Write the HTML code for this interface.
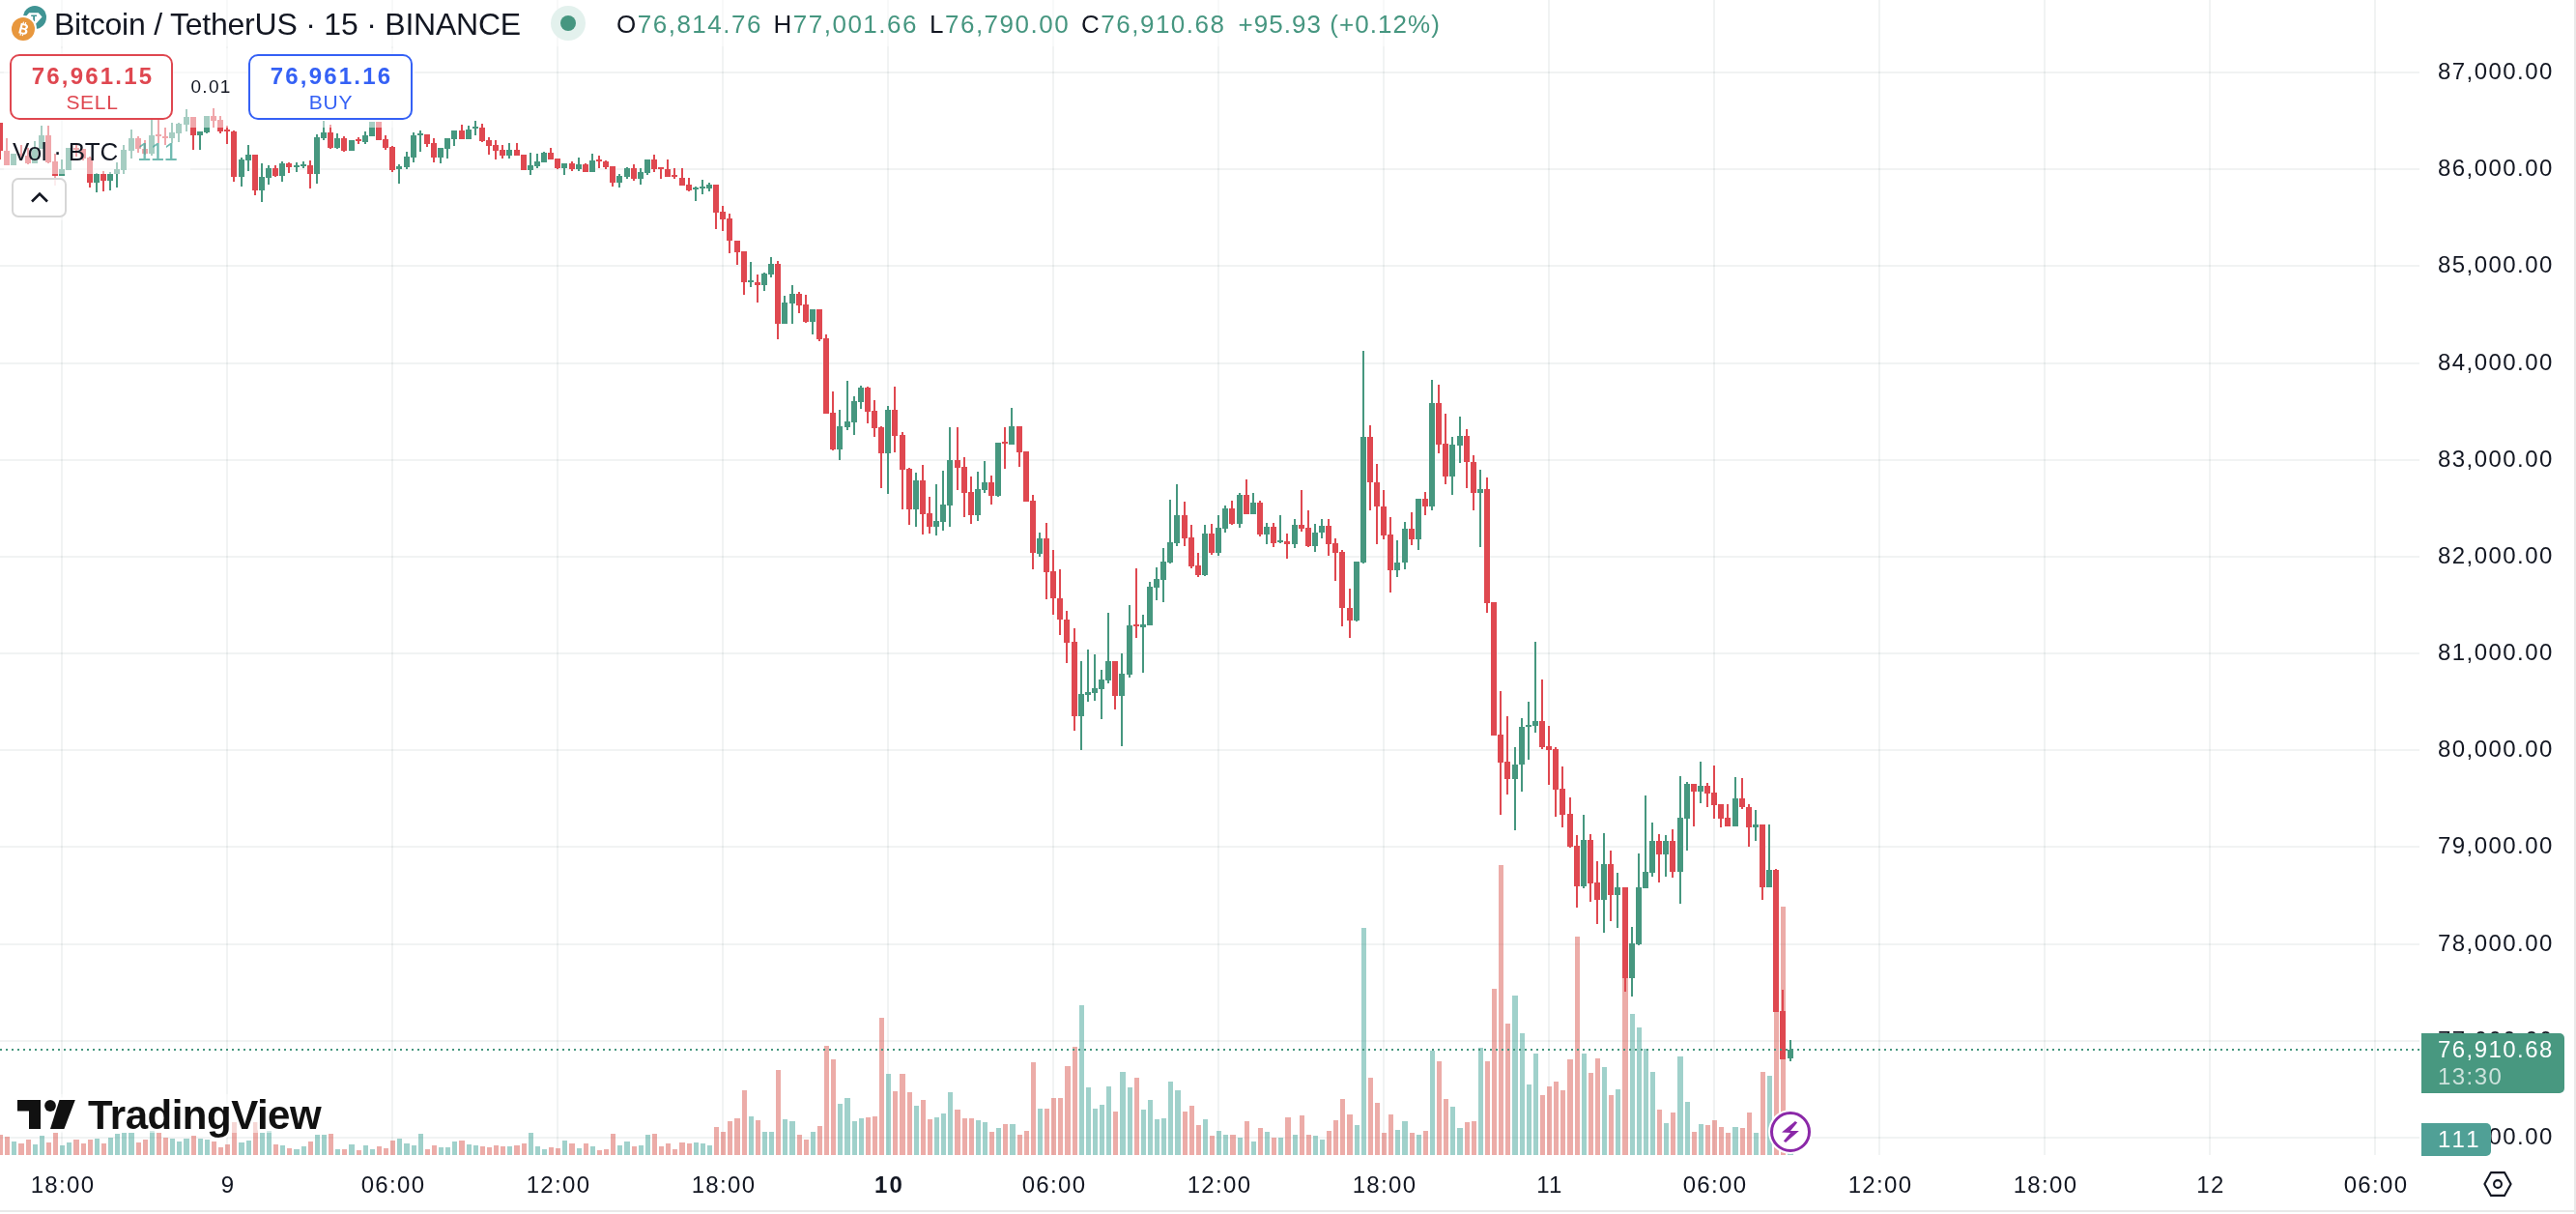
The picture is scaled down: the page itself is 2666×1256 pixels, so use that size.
<!DOCTYPE html>
<html>
<head>
<meta charset="utf-8">
<title>BTCUSDT Chart</title>
<style>
html,body{margin:0;padding:0;background:#fff;}
body{width:2666px;height:1256px;overflow:hidden;position:relative;font-family:"Liberation Sans",sans-serif;color:#131722;}
.abs{position:absolute;white-space:nowrap;}
.ov{position:absolute;background:rgba(255,255,255,0.52);}
.plab{position:absolute;left:2523px;font-size:24px;line-height:28px;letter-spacing:1.45px;margin-top:.5px;white-space:nowrap;}
.tlab{position:absolute;top:1212px;margin-left:1px;font-size:24px;line-height:28px;letter-spacing:1.3px;white-space:nowrap;transform:translateX(-50%);}
.leg{position:absolute;top:10px;font-size:26px;line-height:30px;white-space:nowrap;letter-spacing:1.5px;}
.g{color:#469680;}
</style>
</head>
<body>
<div id="root" style="position:absolute;left:0;top:0;width:2666px;height:1256px;will-change:transform;">
<svg width="2666" height="1256" viewBox="0 0 2666 1256" shape-rendering="crispEdges" style="position:absolute;left:0;top:0">
<path fill="rgba(20,45,45,0.06)" d="M63 0h2v1195h-2zM234 0h2v1195h-2zM405 0h2v1195h-2zM576 0h2v1195h-2zM747 0h2v1195h-2zM918 0h2v1195h-2zM1089 0h2v1195h-2zM1260 0h2v1195h-2zM1431 0h2v1195h-2zM1602 0h2v1195h-2zM1773 0h2v1195h-2zM1944 0h2v1195h-2zM2115 0h2v1195h-2zM2286 0h2v1195h-2zM2457 0h2v1195h-2z"/>
<path fill="rgba(20,45,45,0.06)" d="M0 74h2504v2h-2504zM0 174h2504v2h-2504zM0 274h2504v2h-2504zM0 375h2504v2h-2504zM0 475h2504v2h-2504zM0 575h2504v2h-2504zM0 675h2504v2h-2504zM0 775h2504v2h-2504zM0 875h2504v2h-2504zM0 976h2504v2h-2504zM0 1076h2504v2h-2504zM0 1176h2504v2h-2504z"/>
<path fill="rgba(217,89,81,0.5)" d="M-2 1174h5v21h-5zM5 1176h5v19h-5zM19 1183h6v12h-6zM27 1179h5v16h-5zM48 1182h5v13h-5zM55 1172h5v23h-5zM76 1179h6v16h-6zM84 1183h5v12h-5zM91 1179h5v16h-5zM105 1183h5v12h-5zM141 1182h5v13h-5zM148 1179h5v16h-5zM162 1172h5v23h-5zM169 1177h5v18h-5zM198 1175h5v20h-5zM219 1181h5v14h-5zM226 1187h5v8h-5zM233 1184h5v11h-5zM240 1161h5v34h-5zM262 1161h5v34h-5zM283 1184h5v11h-5zM297 1188h5v7h-5zM319 1181h5v14h-5zM340 1173h5v22h-5zM354 1189h5v6h-5zM369 1190h5v5h-5zM390 1186h5v9h-5zM397 1188h5v7h-5zM404 1180h5v15h-5zM440 1189h5v6h-5zM447 1185h5v10h-5zM475 1180h6v15h-6zM497 1186h5v9h-5zM504 1187h5v8h-5zM511 1185h5v10h-5zM518 1186h5v9h-5zM532 1185h6v10h-6zM540 1183h5v12h-5zM568 1187h5v8h-5zM575 1188h5v7h-5zM589 1183h6v12h-6zM604 1183h5v12h-5zM618 1190h5v5h-5zM625 1189h5v6h-5zM632 1173h5v22h-5zM654 1186h5v9h-5zM675 1173h5v22h-5zM682 1186h5v9h-5zM689 1183h5v12h-5zM696 1189h5v6h-5zM703 1182h6v13h-6zM711 1183h5v12h-5zM739 1166h5v29h-5zM746 1171h5v24h-5zM753 1160h5v35h-5zM760 1157h6v38h-6zM768 1128h5v67h-5zM782 1159h5v36h-5zM803 1107h5v88h-5zM825 1174h5v21h-5zM832 1179h5v16h-5zM846 1165h5v30h-5zM853 1082h5v113h-5zM860 1096h5v99h-5zM896 1156h5v39h-5zM903 1155h5v40h-5zM910 1053h5v142h-5zM924 1129h5v66h-5zM931 1111h6v84h-6zM939 1130h5v65h-5zM953 1138h5v57h-5zM960 1158h5v37h-5zM988 1148h6v47h-6zM996 1157h5v38h-5zM1003 1157h5v38h-5zM1024 1171h5v24h-5zM1038 1163h5v32h-5zM1053 1174h5v21h-5zM1060 1170h5v25h-5zM1067 1099h5v96h-5zM1081 1147h5v48h-5zM1088 1136h5v59h-5zM1095 1136h5v59h-5zM1102 1103h6v92h-6zM1110 1083h5v112h-5zM1152 1150h5v45h-5zM1174 1115h5v80h-5zM1224 1150h5v45h-5zM1231 1144h5v51h-5zM1238 1164h5v31h-5zM1252 1175h5v20h-5zM1273 1174h6v21h-6zM1288 1160h5v35h-5zM1302 1167h5v28h-5zM1316 1177h5v18h-5zM1330 1156h6v39h-6zM1345 1154h5v41h-5zM1352 1174h5v21h-5zM1373 1170h5v25h-5zM1380 1159h5v36h-5zM1387 1137h5v58h-5zM1394 1153h6v42h-6zM1416 1115h5v80h-5zM1423 1141h5v54h-5zM1430 1172h5v23h-5zM1437 1153h5v42h-5zM1459 1172h5v23h-5zM1473 1170h5v25h-5zM1487 1098h5v97h-5zM1494 1137h5v58h-5zM1516 1161h5v34h-5zM1523 1160h5v35h-5zM1537 1098h5v97h-5zM1544 1023h5v172h-5zM1551 895h5v300h-5zM1558 1059h5v136h-5zM1594 1133h5v62h-5zM1601 1124h5v71h-5zM1608 1119h5v76h-5zM1615 1128h5v67h-5zM1622 1096h6v99h-6zM1630 969h5v226h-5zM1644 1110h5v85h-5zM1651 1095h5v100h-5zM1665 1133h5v62h-5zM1679 960h6v235h-6zM1715 1148h5v47h-5zM1729 1151h5v44h-5zM1751 1171h5v24h-5zM1765 1164h5v31h-5zM1772 1159h5v36h-5zM1779 1166h5v29h-5zM1786 1172h5v23h-5zM1801 1167h5v28h-5zM1808 1151h5v44h-5zM1822 1109h5v86h-5zM1836 1000h5v195h-5zM1843 938h5v257h-5z"/>
<path fill="rgba(65,163,151,0.5)" d="M12 1181h5v14h-5zM34 1184h5v11h-5zM41 1175h5v20h-5zM62 1185h5v10h-5zM69 1182h5v13h-5zM98 1178h5v17h-5zM112 1177h5v18h-5zM119 1173h5v22h-5zM126 1172h5v23h-5zM133 1172h6v23h-6zM155 1170h5v25h-5zM176 1178h5v17h-5zM183 1181h5v14h-5zM190 1178h6v17h-6zM205 1178h5v17h-5zM212 1179h5v16h-5zM247 1182h6v13h-6zM255 1180h5v15h-5zM269 1172h5v23h-5zM276 1170h5v25h-5zM290 1185h5v10h-5zM304 1189h6v6h-6zM312 1186h5v9h-5zM326 1174h5v21h-5zM333 1174h5v21h-5zM347 1189h5v6h-5zM361 1184h6v11h-6zM376 1185h5v10h-5zM383 1189h5v6h-5zM411 1178h5v17h-5zM418 1183h6v12h-6zM426 1185h5v10h-5zM433 1173h5v22h-5zM454 1187h5v8h-5zM461 1187h5v8h-5zM468 1181h5v14h-5zM483 1184h5v11h-5zM490 1185h5v10h-5zM525 1186h5v9h-5zM547 1172h5v23h-5zM554 1186h5v9h-5zM561 1189h5v6h-5zM582 1180h5v15h-5zM597 1188h5v7h-5zM611 1186h5v9h-5zM639 1185h5v10h-5zM646 1181h6v14h-6zM661 1185h5v10h-5zM668 1174h5v21h-5zM718 1182h5v13h-5zM725 1183h5v12h-5zM732 1185h5v10h-5zM775 1155h5v40h-5zM789 1171h5v24h-5zM796 1171h5v24h-5zM810 1158h5v37h-5zM817 1160h6v35h-6zM839 1171h5v24h-5zM867 1142h5v53h-5zM874 1136h6v59h-6zM882 1160h5v35h-5zM889 1157h5v38h-5zM917 1111h5v84h-5zM946 1144h5v51h-5zM967 1156h5v39h-5zM974 1152h5v43h-5zM981 1130h5v65h-5zM1010 1159h5v36h-5zM1017 1161h5v34h-5zM1031 1167h5v28h-5zM1045 1163h6v32h-6zM1074 1147h5v48h-5zM1117 1040h5v155h-5zM1124 1125h5v70h-5zM1131 1147h5v48h-5zM1138 1143h5v52h-5zM1145 1124h5v71h-5zM1159 1109h6v86h-6zM1167 1125h5v70h-5zM1181 1148h5v47h-5zM1188 1138h5v57h-5zM1195 1158h5v37h-5zM1202 1157h5v38h-5zM1209 1119h5v76h-5zM1216 1128h6v67h-6zM1245 1158h5v37h-5zM1259 1170h5v25h-5zM1266 1174h5v21h-5zM1281 1177h5v18h-5zM1295 1181h5v14h-5zM1309 1171h5v24h-5zM1323 1177h5v18h-5zM1338 1174h5v21h-5zM1359 1175h5v20h-5zM1366 1179h5v16h-5zM1402 1164h5v31h-5zM1409 960h5v235h-5zM1444 1169h5v26h-5zM1451 1160h6v35h-6zM1466 1174h5v21h-5zM1480 1087h5v108h-5zM1501 1145h5v50h-5zM1508 1167h6v28h-6zM1530 1084h5v111h-5zM1565 1030h6v165h-6zM1573 1069h5v126h-5zM1580 1122h5v73h-5zM1587 1090h5v105h-5zM1637 1090h5v105h-5zM1658 1104h5v91h-5zM1672 1127h5v68h-5zM1687 1049h5v146h-5zM1694 1063h5v132h-5zM1701 1085h5v110h-5zM1708 1109h5v86h-5zM1722 1162h5v33h-5zM1736 1093h6v102h-6zM1744 1140h5v55h-5zM1758 1163h5v32h-5zM1793 1166h6v29h-6zM1815 1172h5v23h-5zM1829 1113h5v82h-5zM1850 1193h6v2h-6z"/>
<path fill="#df4850" d="M-1 127h2v38h-2zM-3 127h6v29h-6zM6 143h2v28h-2zM4 156h6v15h-6zM21 150h2v13h-2zM19 159h6v2h-6zM28 153h2v17h-2zM26 161h6v8h-6zM49 130h2v39h-2zM47 140h6v28h-6zM56 159h2v33h-2zM54 167h6v15h-6zM78 150h2v12h-2zM76 153h6v2h-6zM85 154h2v12h-2zM83 154h6v10h-6zM92 162h2v32h-2zM90 163h6v26h-6zM106 177h2v21h-2zM104 180h6v7h-6zM142 141h2v17h-2zM140 143h6v11h-6zM149 145h2v15h-2zM147 154h6v5h-6zM163 124h2v24h-2zM161 139h6v2h-6zM170 132h2v18h-2zM168 141h6v2h-6zM199 121h2v34h-2zM197 121h6v19h-6zM220 112h2v20h-2zM218 120h6v5h-6zM227 120h2v18h-2zM225 124h6v12h-6zM234 130h2v19h-2zM232 134h6v2h-6zM241 135h2v53h-2zM239 136h6v47h-6zM263 160h2v42h-2zM261 160h6v37h-6zM284 171h2v12h-2zM282 174h6v8h-6zM298 168h2v11h-2zM296 169h6v4h-6zM320 166h2v29h-2zM318 171h6v9h-6zM341 129h2v25h-2zM339 137h6v16h-6zM355 141h2v16h-2zM353 143h6v13h-6zM370 142h2v7h-2zM368 144h6v2h-6zM391 126h2v19h-2zM389 126h6v19h-6zM398 140h2v15h-2zM396 144h6v9h-6zM405 151h2v27h-2zM403 152h6v24h-6zM441 139h2v13h-2zM439 139h6v10h-6zM448 143h2v25h-2zM446 148h6v15h-6zM477 129h2v15h-2zM475 135h6v9h-6zM498 128h2v19h-2zM496 132h6v14h-6zM505 142h2v18h-2zM503 145h6v6h-6zM512 145h2v20h-2zM510 150h6v6h-6zM519 150h2v14h-2zM517 155h6v6h-6zM534 148h2v13h-2zM532 155h6v6h-6zM541 160h2v16h-2zM539 160h6v16h-6zM569 153h2v12h-2zM567 158h6v7h-6zM576 164h2v11h-2zM574 164h6v10h-6zM591 167h2v10h-2zM589 169h6v6h-6zM605 169h2v9h-2zM603 170h6v8h-6zM619 161h2v13h-2zM617 165h6v2h-6zM626 166h2v9h-2zM624 167h6v6h-6zM633 172h2v21h-2zM631 172h6v17h-6zM655 170h2v17h-2zM653 174h6v11h-6zM676 160h2v18h-2zM674 165h6v10h-6zM683 173h2v12h-2zM681 173h6v2h-6zM690 165h2v18h-2zM688 175h6v8h-6zM697 174h2v11h-2zM695 181h6v2h-6zM705 174h2v18h-2zM703 184h6v8h-6zM712 184h2v14h-2zM710 191h6v6h-6zM740 191h2v46h-2zM738 191h6v29h-6zM747 213h2v26h-2zM745 219h6v8h-6zM754 221h2v41h-2zM752 226h6v23h-6zM762 249h2v25h-2zM760 249h6v12h-6zM769 260h2v45h-2zM767 260h6v32h-6zM783 284h2v29h-2zM781 292h6v3h-6zM804 270h2v81h-2zM802 273h6v62h-6zM826 302h2v22h-2zM824 304h6v12h-6zM833 305h2v29h-2zM831 315h6v18h-6zM847 320h2v33h-2zM845 320h6v31h-6zM854 346h2v82h-2zM852 350h6v78h-6zM861 405h2v61h-2zM859 427h6v38h-6zM897 400h2v38h-2zM895 401h6v25h-6zM904 414h2v38h-2zM902 425h6v18h-6zM911 441h2v64h-2zM909 442h6v27h-6zM925 400h2v68h-2zM923 424h6v27h-6zM933 447h2v80h-2zM931 450h6v36h-6zM940 484h2v59h-2zM938 485h6v42h-6zM954 481h2v72h-2zM952 497h6v35h-6zM961 514h2v38h-2zM959 531h6v14h-6zM990 442h2v65h-2zM988 476h6v8h-6zM997 473h2v62h-2zM995 483h6v27h-6zM1004 493h2v49h-2zM1002 509h6v24h-6zM1025 492h2v30h-2zM1023 499h6v14h-6zM1039 442h2v43h-2zM1037 457h6v2h-6zM1054 441h2v42h-2zM1052 441h6v27h-6zM1061 467h2v52h-2zM1059 467h6v52h-6zM1068 512h2v77h-2zM1066 518h6v54h-6zM1082 541h2v79h-2zM1080 557h6v35h-6zM1089 569h2v67h-2zM1087 591h6v28h-6zM1096 589h2v68h-2zM1094 619h6v22h-6zM1103 632h2v54h-2zM1101 641h6v24h-6zM1111 650h2v106h-2zM1109 664h6v77h-6zM1153 684h2v50h-2zM1151 684h6v36h-6zM1175 588h2v72h-2zM1173 646h6v2h-6zM1225 519h2v46h-2zM1223 533h6v24h-6zM1232 543h2v45h-2zM1230 556h6v30h-6zM1239 572h2v25h-2zM1237 585h6v10h-6zM1253 542h2v32h-2zM1251 552h6v20h-6zM1274 518h2v25h-2zM1272 526h6v16h-6zM1289 496h2v36h-2zM1287 512h6v20h-6zM1303 518h2v37h-2zM1301 520h6v33h-6zM1317 541h2v25h-2zM1315 545h6v17h-6zM1331 552h2v26h-2zM1329 560h6v3h-6zM1346 507h2v43h-2zM1344 543h6v4h-6zM1353 528h2v38h-2zM1351 546h6v19h-6zM1374 537h2v38h-2zM1372 544h6v19h-6zM1381 557h2v44h-2zM1379 562h6v10h-6zM1388 569h2v79h-2zM1386 571h6v58h-6zM1396 609h2v51h-2zM1394 629h6v13h-6zM1417 440h2v88h-2zM1415 452h6v47h-6zM1424 480h2v83h-2zM1422 499h6v25h-6zM1431 507h2v51h-2zM1429 524h6v30h-6zM1438 535h2v78h-2zM1436 553h6v37h-6zM1460 530h2v34h-2zM1458 547h6v11h-6zM1474 509h2v24h-2zM1472 516h6v8h-6zM1488 398h2v71h-2zM1486 417h6v43h-6zM1495 428h2v73h-2zM1493 459h6v34h-6zM1517 444h2v61h-2zM1515 451h6v27h-6zM1524 471h2v57h-2zM1522 478h6v32h-6zM1538 494h2v140h-2zM1536 506h6v118h-6zM1545 623h2v138h-2zM1543 623h6v138h-6zM1552 715h2v128h-2zM1550 760h6v29h-6zM1559 741h2v81h-2zM1557 788h6v18h-6zM1595 703h2v72h-2zM1593 746h6v27h-6zM1602 751h2v61h-2zM1600 772h6v4h-6zM1609 773h2v72h-2zM1607 775h6v42h-6zM1616 793h2v63h-2zM1614 816h6v27h-6zM1624 825h2v52h-2zM1622 842h6v34h-6zM1631 864h2v75h-2zM1629 875h6v42h-6zM1645 863h2v70h-2zM1643 869h6v45h-6zM1652 891h2v65h-2zM1650 913h6v18h-6zM1666 880h2v73h-2zM1664 894h6v32h-6zM1681 918h2v108h-2zM1679 918h6v94h-6zM1716 863h2v50h-2zM1714 870h6v14h-6zM1730 858h2v50h-2zM1728 870h6v32h-6zM1752 811h2v44h-2zM1750 811h6v8h-6zM1766 810h2v25h-2zM1764 813h6v8h-6zM1773 792h2v55h-2zM1771 820h6v13h-6zM1780 832h2v24h-2zM1778 832h6v15h-6zM1787 832h2v23h-2zM1785 846h6v9h-6zM1802 805h2v32h-2zM1800 826h6v9h-6zM1809 832h2v44h-2zM1807 835h6v21h-6zM1823 853h2v78h-2zM1821 853h6v65h-6zM1837 899h2v148h-2zM1835 900h6v147h-6zM1844 1024h2v72h-2zM1842 1046h6v50h-6z"/>
<path fill="#46977f" d="M13 159h2v12h-2zM11 159h6v12h-6zM35 146h2v23h-2zM33 154h6v15h-6zM42 130h2v24h-2zM40 140h6v14h-6zM63 165h2v17h-2zM61 175h6v7h-6zM70 153h2v23h-2zM68 153h6v23h-6zM99 179h2v20h-2zM97 180h6v9h-6zM113 178h2v19h-2zM111 180h6v7h-6zM120 168h2v26h-2zM118 175h6v5h-6zM127 150h2v30h-2zM125 155h6v21h-6zM135 134h2v30h-2zM133 143h6v13h-6zM156 124h2v37h-2zM154 140h6v19h-6zM177 127h2v21h-2zM175 137h6v6h-6zM184 127h2v20h-2zM182 128h6v10h-6zM192 113h2v23h-2zM190 121h6v8h-6zM206 136h2v19h-2zM204 136h6v4h-6zM213 120h2v18h-2zM211 120h6v17h-6zM249 163h2v30h-2zM247 165h6v18h-6zM256 150h2v27h-2zM254 160h6v6h-6zM270 169h2v40h-2zM268 183h6v14h-6zM277 171h2v20h-2zM275 174h6v10h-6zM291 167h2v21h-2zM289 169h6v13h-6zM306 168h2v10h-2zM304 171h6v2h-6zM313 167h2v7h-2zM311 170h6v2h-6zM327 139h2v51h-2zM325 142h6v38h-6zM334 125h2v20h-2zM332 137h6v6h-6zM348 138h2v16h-2zM346 143h6v10h-6zM363 145h2v11h-2zM361 145h6v11h-6zM377 136h2v13h-2zM375 140h6v7h-6zM384 126h2v15h-2zM382 126h6v15h-6zM412 170h2v20h-2zM410 172h6v3h-6zM420 157h2v18h-2zM418 162h6v11h-6zM427 137h2v31h-2zM425 140h6v23h-6zM434 135h2v22h-2zM432 138h6v2h-6zM455 153h2v16h-2zM453 153h6v10h-6zM462 143h2v21h-2zM460 143h6v11h-6zM469 135h2v16h-2zM467 135h6v9h-6zM484 130h2v14h-2zM482 134h6v10h-6zM491 125h2v15h-2zM489 131h6v2h-6zM526 148h2v16h-2zM524 155h6v6h-6zM548 158h2v23h-2zM546 171h6v5h-6zM555 159h2v15h-2zM553 167h6v5h-6zM562 157h2v11h-2zM560 158h6v10h-6zM583 169h2v12h-2zM581 169h6v5h-6zM598 163h2v14h-2zM596 170h6v5h-6zM612 159h2v19h-2zM610 166h6v12h-6zM640 180h2v14h-2zM638 182h6v7h-6zM648 173h2v12h-2zM646 174h6v9h-6zM662 174h2v17h-2zM660 178h6v7h-6zM669 165h2v16h-2zM667 165h6v14h-6zM719 193h2v15h-2zM717 194h6v2h-6zM726 186h2v15h-2zM724 193h6v2h-6zM733 189h2v9h-2zM731 191h6v4h-6zM776 271h2v26h-2zM774 290h6v2h-6zM790 282h2v19h-2zM788 283h6v12h-6zM797 266h2v21h-2zM795 273h6v11h-6zM811 306h2v29h-2zM809 313h6v22h-6zM819 295h2v40h-2zM817 304h6v10h-6zM840 320h2v26h-2zM838 320h6v13h-6zM868 424h2v52h-2zM866 441h6v24h-6zM876 394h2v51h-2zM874 436h6v6h-6zM883 410h2v40h-2zM881 415h6v22h-6zM890 399h2v24h-2zM888 401h6v15h-6zM918 420h2v91h-2zM916 424h6v45h-6zM947 489h2v56h-2zM945 497h6v30h-6zM968 501h2v53h-2zM966 539h6v6h-6zM975 487h2v62h-2zM973 522h6v18h-6zM982 442h2v103h-2zM980 476h6v47h-6zM1011 488h2v51h-2zM1009 506h6v27h-6zM1018 477h2v33h-2zM1016 499h6v8h-6zM1032 458h2v56h-2zM1030 458h6v55h-6zM1046 422h2v38h-2zM1044 441h6v19h-6zM1075 551h2v25h-2zM1073 557h6v16h-6zM1118 684h2v92h-2zM1116 718h6v23h-6zM1125 672h2v54h-2zM1123 716h6v3h-6zM1132 677h2v48h-2zM1130 712h6v5h-6zM1139 693h2v51h-2zM1137 703h6v10h-6zM1146 634h2v73h-2zM1144 684h6v20h-6zM1160 676h2v96h-2zM1158 697h6v23h-6zM1168 626h2v75h-2zM1166 647h6v51h-6zM1182 636h2v60h-2zM1180 646h6v3h-6zM1189 602h2v45h-2zM1187 607h6v40h-6zM1196 587h2v34h-2zM1194 599h6v9h-6zM1203 567h2v56h-2zM1201 581h6v19h-6zM1210 517h2v66h-2zM1208 561h6v21h-6zM1217 501h2v64h-2zM1215 533h6v29h-6zM1246 543h2v53h-2zM1244 552h6v43h-6zM1260 533h2v42h-2zM1258 546h6v26h-6zM1267 523h2v28h-2zM1265 526h6v21h-6zM1282 510h2v36h-2zM1280 512h6v30h-6zM1296 510h2v22h-2zM1294 520h6v12h-6zM1310 541h2v22h-2zM1308 545h6v8h-6zM1324 533h2v29h-2zM1322 559h6v2h-6zM1339 537h2v30h-2zM1337 543h6v20h-6zM1360 542h2v29h-2zM1358 551h6v14h-6zM1367 537h2v20h-2zM1365 544h6v7h-6zM1403 581h2v62h-2zM1401 581h6v61h-6zM1410 363h2v220h-2zM1408 452h6v130h-6zM1445 559h2v38h-2zM1443 582h6v8h-6zM1453 540h2v49h-2zM1451 547h6v35h-6zM1467 516h2v53h-2zM1465 516h6v42h-6zM1481 393h2v135h-2zM1479 417h6v107h-6zM1502 452h2v60h-2zM1500 460h6v33h-6zM1510 431h2v48h-2zM1508 451h6v10h-6zM1531 486h2v80h-2zM1529 506h6v4h-6zM1567 773h2v86h-2zM1565 791h6v15h-6zM1574 743h2v76h-2zM1572 752h6v39h-6zM1581 726h2v60h-2zM1579 750h6v2h-6zM1588 664h2v94h-2zM1586 746h6v5h-6zM1638 843h2v76h-2zM1636 869h6v48h-6zM1659 862h2v103h-2zM1657 894h6v37h-6zM1673 903h2v57h-2zM1671 918h6v8h-6zM1688 959h2v72h-2zM1686 976h6v36h-6zM1695 883h2v95h-2zM1693 918h6v59h-6zM1702 823h2v96h-2zM1700 902h6v17h-6zM1709 851h2v56h-2zM1707 870h6v33h-6zM1723 864h2v43h-2zM1721 870h6v14h-6zM1738 803h2v132h-2zM1736 846h6v56h-6zM1745 809h2v71h-2zM1743 811h6v36h-6zM1759 788h2v43h-2zM1757 813h6v6h-6zM1795 804h2v51h-2zM1793 826h6v29h-6zM1816 838h2v32h-2zM1814 853h6v3h-6zM1830 853h2v65h-2zM1828 900h6v18h-6zM1852 1076h2v22h-2zM1850 1086h6v9h-6z"/>
<path fill="#46977f" d="M0 1085h2v2h-2zM6 1085h2v2h-2zM12 1085h2v2h-2zM18 1085h2v2h-2zM24 1085h2v2h-2zM30 1085h2v2h-2zM36 1085h2v2h-2zM42 1085h2v2h-2zM48 1085h2v2h-2zM54 1085h2v2h-2zM60 1085h2v2h-2zM66 1085h2v2h-2zM72 1085h2v2h-2zM78 1085h2v2h-2zM84 1085h2v2h-2zM90 1085h2v2h-2zM96 1085h2v2h-2zM102 1085h2v2h-2zM108 1085h2v2h-2zM114 1085h2v2h-2zM120 1085h2v2h-2zM126 1085h2v2h-2zM132 1085h2v2h-2zM138 1085h2v2h-2zM144 1085h2v2h-2zM150 1085h2v2h-2zM156 1085h2v2h-2zM162 1085h2v2h-2zM168 1085h2v2h-2zM174 1085h2v2h-2zM180 1085h2v2h-2zM186 1085h2v2h-2zM192 1085h2v2h-2zM198 1085h2v2h-2zM204 1085h2v2h-2zM210 1085h2v2h-2zM216 1085h2v2h-2zM222 1085h2v2h-2zM228 1085h2v2h-2zM234 1085h2v2h-2zM240 1085h2v2h-2zM246 1085h2v2h-2zM252 1085h2v2h-2zM258 1085h2v2h-2zM264 1085h2v2h-2zM270 1085h2v2h-2zM276 1085h2v2h-2zM282 1085h2v2h-2zM288 1085h2v2h-2zM294 1085h2v2h-2zM300 1085h2v2h-2zM306 1085h2v2h-2zM312 1085h2v2h-2zM318 1085h2v2h-2zM324 1085h2v2h-2zM330 1085h2v2h-2zM336 1085h2v2h-2zM342 1085h2v2h-2zM348 1085h2v2h-2zM354 1085h2v2h-2zM360 1085h2v2h-2zM366 1085h2v2h-2zM372 1085h2v2h-2zM378 1085h2v2h-2zM384 1085h2v2h-2zM390 1085h2v2h-2zM396 1085h2v2h-2zM402 1085h2v2h-2zM408 1085h2v2h-2zM414 1085h2v2h-2zM420 1085h2v2h-2zM426 1085h2v2h-2zM432 1085h2v2h-2zM438 1085h2v2h-2zM444 1085h2v2h-2zM450 1085h2v2h-2zM456 1085h2v2h-2zM462 1085h2v2h-2zM468 1085h2v2h-2zM474 1085h2v2h-2zM480 1085h2v2h-2zM486 1085h2v2h-2zM492 1085h2v2h-2zM498 1085h2v2h-2zM504 1085h2v2h-2zM510 1085h2v2h-2zM516 1085h2v2h-2zM522 1085h2v2h-2zM528 1085h2v2h-2zM534 1085h2v2h-2zM540 1085h2v2h-2zM546 1085h2v2h-2zM552 1085h2v2h-2zM558 1085h2v2h-2zM564 1085h2v2h-2zM570 1085h2v2h-2zM576 1085h2v2h-2zM582 1085h2v2h-2zM588 1085h2v2h-2zM594 1085h2v2h-2zM600 1085h2v2h-2zM606 1085h2v2h-2zM612 1085h2v2h-2zM618 1085h2v2h-2zM624 1085h2v2h-2zM630 1085h2v2h-2zM636 1085h2v2h-2zM642 1085h2v2h-2zM648 1085h2v2h-2zM654 1085h2v2h-2zM660 1085h2v2h-2zM666 1085h2v2h-2zM672 1085h2v2h-2zM678 1085h2v2h-2zM684 1085h2v2h-2zM690 1085h2v2h-2zM696 1085h2v2h-2zM702 1085h2v2h-2zM708 1085h2v2h-2zM714 1085h2v2h-2zM720 1085h2v2h-2zM726 1085h2v2h-2zM732 1085h2v2h-2zM738 1085h2v2h-2zM744 1085h2v2h-2zM750 1085h2v2h-2zM756 1085h2v2h-2zM762 1085h2v2h-2zM768 1085h2v2h-2zM774 1085h2v2h-2zM780 1085h2v2h-2zM786 1085h2v2h-2zM792 1085h2v2h-2zM798 1085h2v2h-2zM804 1085h2v2h-2zM810 1085h2v2h-2zM816 1085h2v2h-2zM822 1085h2v2h-2zM828 1085h2v2h-2zM834 1085h2v2h-2zM840 1085h2v2h-2zM846 1085h2v2h-2zM852 1085h2v2h-2zM858 1085h2v2h-2zM864 1085h2v2h-2zM870 1085h2v2h-2zM876 1085h2v2h-2zM882 1085h2v2h-2zM888 1085h2v2h-2zM894 1085h2v2h-2zM900 1085h2v2h-2zM906 1085h2v2h-2zM912 1085h2v2h-2zM918 1085h2v2h-2zM924 1085h2v2h-2zM930 1085h2v2h-2zM936 1085h2v2h-2zM942 1085h2v2h-2zM948 1085h2v2h-2zM954 1085h2v2h-2zM960 1085h2v2h-2zM966 1085h2v2h-2zM972 1085h2v2h-2zM978 1085h2v2h-2zM984 1085h2v2h-2zM990 1085h2v2h-2zM996 1085h2v2h-2zM1002 1085h2v2h-2zM1008 1085h2v2h-2zM1014 1085h2v2h-2zM1020 1085h2v2h-2zM1026 1085h2v2h-2zM1032 1085h2v2h-2zM1038 1085h2v2h-2zM1044 1085h2v2h-2zM1050 1085h2v2h-2zM1056 1085h2v2h-2zM1062 1085h2v2h-2zM1068 1085h2v2h-2zM1074 1085h2v2h-2zM1080 1085h2v2h-2zM1086 1085h2v2h-2zM1092 1085h2v2h-2zM1098 1085h2v2h-2zM1104 1085h2v2h-2zM1110 1085h2v2h-2zM1116 1085h2v2h-2zM1122 1085h2v2h-2zM1128 1085h2v2h-2zM1134 1085h2v2h-2zM1140 1085h2v2h-2zM1146 1085h2v2h-2zM1152 1085h2v2h-2zM1158 1085h2v2h-2zM1164 1085h2v2h-2zM1170 1085h2v2h-2zM1176 1085h2v2h-2zM1182 1085h2v2h-2zM1188 1085h2v2h-2zM1194 1085h2v2h-2zM1200 1085h2v2h-2zM1206 1085h2v2h-2zM1212 1085h2v2h-2zM1218 1085h2v2h-2zM1224 1085h2v2h-2zM1230 1085h2v2h-2zM1236 1085h2v2h-2zM1242 1085h2v2h-2zM1248 1085h2v2h-2zM1254 1085h2v2h-2zM1260 1085h2v2h-2zM1266 1085h2v2h-2zM1272 1085h2v2h-2zM1278 1085h2v2h-2zM1284 1085h2v2h-2zM1290 1085h2v2h-2zM1296 1085h2v2h-2zM1302 1085h2v2h-2zM1308 1085h2v2h-2zM1314 1085h2v2h-2zM1320 1085h2v2h-2zM1326 1085h2v2h-2zM1332 1085h2v2h-2zM1338 1085h2v2h-2zM1344 1085h2v2h-2zM1350 1085h2v2h-2zM1356 1085h2v2h-2zM1362 1085h2v2h-2zM1368 1085h2v2h-2zM1374 1085h2v2h-2zM1380 1085h2v2h-2zM1386 1085h2v2h-2zM1392 1085h2v2h-2zM1398 1085h2v2h-2zM1404 1085h2v2h-2zM1410 1085h2v2h-2zM1416 1085h2v2h-2zM1422 1085h2v2h-2zM1428 1085h2v2h-2zM1434 1085h2v2h-2zM1440 1085h2v2h-2zM1446 1085h2v2h-2zM1452 1085h2v2h-2zM1458 1085h2v2h-2zM1464 1085h2v2h-2zM1470 1085h2v2h-2zM1476 1085h2v2h-2zM1482 1085h2v2h-2zM1488 1085h2v2h-2zM1494 1085h2v2h-2zM1500 1085h2v2h-2zM1506 1085h2v2h-2zM1512 1085h2v2h-2zM1518 1085h2v2h-2zM1524 1085h2v2h-2zM1530 1085h2v2h-2zM1536 1085h2v2h-2zM1542 1085h2v2h-2zM1548 1085h2v2h-2zM1554 1085h2v2h-2zM1560 1085h2v2h-2zM1566 1085h2v2h-2zM1572 1085h2v2h-2zM1578 1085h2v2h-2zM1584 1085h2v2h-2zM1590 1085h2v2h-2zM1596 1085h2v2h-2zM1602 1085h2v2h-2zM1608 1085h2v2h-2zM1614 1085h2v2h-2zM1620 1085h2v2h-2zM1626 1085h2v2h-2zM1632 1085h2v2h-2zM1638 1085h2v2h-2zM1644 1085h2v2h-2zM1650 1085h2v2h-2zM1656 1085h2v2h-2zM1662 1085h2v2h-2zM1668 1085h2v2h-2zM1674 1085h2v2h-2zM1680 1085h2v2h-2zM1686 1085h2v2h-2zM1692 1085h2v2h-2zM1698 1085h2v2h-2zM1704 1085h2v2h-2zM1710 1085h2v2h-2zM1716 1085h2v2h-2zM1722 1085h2v2h-2zM1728 1085h2v2h-2zM1734 1085h2v2h-2zM1740 1085h2v2h-2zM1746 1085h2v2h-2zM1752 1085h2v2h-2zM1758 1085h2v2h-2zM1764 1085h2v2h-2zM1770 1085h2v2h-2zM1776 1085h2v2h-2zM1782 1085h2v2h-2zM1788 1085h2v2h-2zM1794 1085h2v2h-2zM1800 1085h2v2h-2zM1806 1085h2v2h-2zM1812 1085h2v2h-2zM1818 1085h2v2h-2zM1824 1085h2v2h-2zM1830 1085h2v2h-2zM1836 1085h2v2h-2zM1842 1085h2v2h-2zM1848 1085h2v2h-2zM1854 1085h2v2h-2zM1860 1085h2v2h-2zM1866 1085h2v2h-2zM1872 1085h2v2h-2zM1878 1085h2v2h-2zM1884 1085h2v2h-2zM1890 1085h2v2h-2zM1896 1085h2v2h-2zM1902 1085h2v2h-2zM1908 1085h2v2h-2zM1914 1085h2v2h-2zM1920 1085h2v2h-2zM1926 1085h2v2h-2zM1932 1085h2v2h-2zM1938 1085h2v2h-2zM1944 1085h2v2h-2zM1950 1085h2v2h-2zM1956 1085h2v2h-2zM1962 1085h2v2h-2zM1968 1085h2v2h-2zM1974 1085h2v2h-2zM1980 1085h2v2h-2zM1986 1085h2v2h-2zM1992 1085h2v2h-2zM1998 1085h2v2h-2zM2004 1085h2v2h-2zM2010 1085h2v2h-2zM2016 1085h2v2h-2zM2022 1085h2v2h-2zM2028 1085h2v2h-2zM2034 1085h2v2h-2zM2040 1085h2v2h-2zM2046 1085h2v2h-2zM2052 1085h2v2h-2zM2058 1085h2v2h-2zM2064 1085h2v2h-2zM2070 1085h2v2h-2zM2076 1085h2v2h-2zM2082 1085h2v2h-2zM2088 1085h2v2h-2zM2094 1085h2v2h-2zM2100 1085h2v2h-2zM2106 1085h2v2h-2zM2112 1085h2v2h-2zM2118 1085h2v2h-2zM2124 1085h2v2h-2zM2130 1085h2v2h-2zM2136 1085h2v2h-2zM2142 1085h2v2h-2zM2148 1085h2v2h-2zM2154 1085h2v2h-2zM2160 1085h2v2h-2zM2166 1085h2v2h-2zM2172 1085h2v2h-2zM2178 1085h2v2h-2zM2184 1085h2v2h-2zM2190 1085h2v2h-2zM2196 1085h2v2h-2zM2202 1085h2v2h-2zM2208 1085h2v2h-2zM2214 1085h2v2h-2zM2220 1085h2v2h-2zM2226 1085h2v2h-2zM2232 1085h2v2h-2zM2238 1085h2v2h-2zM2244 1085h2v2h-2zM2250 1085h2v2h-2zM2256 1085h2v2h-2zM2262 1085h2v2h-2zM2268 1085h2v2h-2zM2274 1085h2v2h-2zM2280 1085h2v2h-2zM2286 1085h2v2h-2zM2292 1085h2v2h-2zM2298 1085h2v2h-2zM2304 1085h2v2h-2zM2310 1085h2v2h-2zM2316 1085h2v2h-2zM2322 1085h2v2h-2zM2328 1085h2v2h-2zM2334 1085h2v2h-2zM2340 1085h2v2h-2zM2346 1085h2v2h-2zM2352 1085h2v2h-2zM2358 1085h2v2h-2zM2364 1085h2v2h-2zM2370 1085h2v2h-2zM2376 1085h2v2h-2zM2382 1085h2v2h-2zM2388 1085h2v2h-2zM2394 1085h2v2h-2zM2400 1085h2v2h-2zM2406 1085h2v2h-2zM2412 1085h2v2h-2zM2418 1085h2v2h-2zM2424 1085h2v2h-2zM2430 1085h2v2h-2zM2436 1085h2v2h-2zM2442 1085h2v2h-2zM2448 1085h2v2h-2zM2454 1085h2v2h-2zM2460 1085h2v2h-2zM2466 1085h2v2h-2zM2472 1085h2v2h-2zM2478 1085h2v2h-2zM2484 1085h2v2h-2zM2490 1085h2v2h-2zM2496 1085h2v2h-2zM2502 1085h2v2h-2z"/>
</svg>

<!-- legend overlays -->
<div class="ov" style="left:0;top:0;width:1500px;height:48px"></div>
<div class="ov" style="left:4px;top:50px;width:426px;height:82px"></div>
<div class="ov" style="left:4px;top:132px;width:193px;height:48px"></div>
<div class="ov" style="left:8px;top:182px;width:64px;height:46px"></div>

<div class="ov" style="left:8px;top:1132px;width:336px;height:40px"></div>

<!-- symbol icons -->
<svg class="abs" style="left:0;top:0" width="60" height="50" viewBox="0 0 60 50">
  <circle cx="36" cy="18" r="12" fill="#409494"/>
  <path d="M30.2 13.2h9.6l3.8 4.4-8.6 9.4-8.6-9.4z" fill="#fff"/>
  <path d="M32.2 15.4h5.8v1.7h-2v5.2h-1.8v-5.2h-2z" fill="#409494"/>
  <circle cx="24" cy="30" r="14" fill="#fff"/>
  <circle cx="24" cy="30" r="12" fill="#e8973d"/>
  <g transform="translate(24 30) rotate(14)" fill="#fff">
    <path d="M-3.6 -5.6h4.4c2.3 0 3.6 1.1 3.6 2.8 0 1.1-.6 1.9-1.5 2.3 1.3.4 2.1 1.3 2.1 2.7 0 2-1.5 3.2-4 3.2h-4.6zM-1.4 -3.8v2.7h1.9c1 0 1.6-.5 1.6-1.4s-.6-1.3-1.6-1.3zM-1.4 .6v3h2.2c1.100 0 1.800-.5 1.800-1.5s-.7-1.500-1.800-1.500z" fill-rule="evenodd"/>
    <rect x="-1.900" y="-7.300" width="1.200" height="2.200"/><rect x=".4" y="-7.300" width="1.200" height="2.200"/>
    <rect x="-1.900" y="5" width="1.200" height="2.200"/><rect x=".4" y="5" width="1.200" height="2.200"/>
  </g>
</svg>

<!-- title row -->
<div class="abs" id="title" style="left:56px;top:4.500px;font-size:32px;line-height:40px;letter-spacing:-0.22px;">Bitcoin / TetherUS · 15 · BINANCE</div>
<div class="abs" style="left:570px;top:6px;width:36px;height:36px;border-radius:50%;background:#e3f1ed;"></div>
<div class="abs" style="left:580px;top:16px;width:16px;height:16px;border-radius:50%;background:#469680;"></div>
<div class="leg" id="lo" style="left:638px">O<span class="g">76,814.76</span></div>
<div class="leg" id="lh" style="left:800.500px">H<span class="g">77,001.66</span></div>
<div class="leg" id="ll" style="left:962px">L<span class="g">76,790.00</span></div>
<div class="leg" id="lc" style="left:1119px">C<span class="g">76,910.68</span></div>
<div class="leg g" id="lch" style="left:1281.500px;letter-spacing:1.05px">+95.93 (+0.12%)</div>

<!-- sell / buy -->
<div class="abs" style="left:10px;top:56px;width:165px;height:64px;border:2px solid #df4750;border-radius:10px;background:#fff;"></div>
<div class="abs" id="sp" style="left:96px;top:65.500px;transform:translateX(-50%);font-size:24px;line-height:26px;font-weight:bold;color:#df4750;letter-spacing:2.2px;">76,961.15</div>
<div class="abs" id="sl" style="left:95.500px;top:95px;transform:translateX(-50%);font-size:21px;line-height:22px;color:#df4750;letter-spacing:0.7px;">SELL</div>
<div class="abs" id="spr" style="left:197.500px;top:79.300px;font-size:19px;line-height:22px;color:#131722;letter-spacing:1.3px;">0.01</div>
<div class="abs" style="left:257px;top:56px;width:166px;height:64px;border:2px solid #3561f5;border-radius:10px;background:#fff;"></div>
<div class="abs" id="bp" style="left:343px;top:65.500px;transform:translateX(-50%);font-size:24px;line-height:26px;font-weight:bold;color:#3561f5;letter-spacing:2.2px;">76,961.16</div>
<div class="abs" id="bl" style="left:342.500px;top:95px;transform:translateX(-50%);font-size:21px;line-height:22px;color:#3561f5;letter-spacing:0.8px;">BUY</div>

<!-- vol legend -->
<div class="abs" id="vol" style="left:13px;top:141.700px;font-size:26px;line-height:30px;letter-spacing:-0.25px;">Vol · BTC</div>
<div class="abs" id="v111" style="left:142px;top:141.700px;font-size:26px;line-height:30px;letter-spacing:1.2px;color:#41a397;opacity:.75">111</div>

<!-- collapse button -->
<div class="abs" style="left:12px;top:184px;width:53px;height:37px;border:2px solid #d6d6d6;border-radius:7px;background:rgba(255,255,255,.8);"></div>
<svg class="abs" style="left:30px;top:196px" width="22" height="16" viewBox="0 0 22 16"><path d="M3 12.500l8-8 8 8" fill="none" stroke="#131722" stroke-width="2.600"/></svg>

<!-- price axis -->
<div class="plab" style="top:59px">87,000.00</div>
<div class="plab" style="top:159px">86,000.00</div>
<div class="plab" style="top:259px">85,000.00</div>
<div class="plab" style="top:360px">84,000.00</div>
<div class="plab" style="top:460px">83,000.00</div>
<div class="plab" style="top:560px">82,000.00</div>
<div class="plab" style="top:660px">81,000.00</div>
<div class="plab" style="top:760px">80,000.00</div>
<div class="plab" style="top:860px">79,000.00</div>
<div class="plab" style="top:961px">78,000.00</div>
<div class="plab" style="top:1061px">77,000.00</div>
<div class="plab" style="top:1161px">76,000.00</div>

<div class="abs" style="left:2506px;top:1069px;width:148px;height:62px;background:#489880;border-radius:0 5px 5px 0;"></div>
<div class="plab" style="top:1071px;color:#fff">76,910.68</div>
<div class="plab" style="top:1099px;color:rgba(255,255,255,.72)">13:30</div>
<div class="abs" style="left:2506px;top:1162px;width:72px;height:34px;background:#50a096;border-radius:0 5px 5px 0;"></div>
<div class="plab" style="top:1164px;color:#fff;letter-spacing:3px">111</div>

<!-- time axis -->
<div class="tlab" style="left:64px">18:00</div>
<div class="tlab" style="left:235px">9</div>
<div class="tlab" style="left:406px">06:00</div>
<div class="tlab" style="left:577px">12:00</div>
<div class="tlab" style="left:748px">18:00</div>
<div class="tlab" style="left:919.500px;font-weight:bold;letter-spacing:2.2px">10</div>
<div class="tlab" style="left:1090px">06:00</div>
<div class="tlab" style="left:1261px">12:00</div>
<div class="tlab" style="left:1432px">18:00</div>
<div class="tlab" style="left:1603px">11</div>
<div class="tlab" style="left:1774px">06:00</div>
<div class="tlab" style="left:1945px">12:00</div>
<div class="tlab" style="left:2116px">18:00</div>
<div class="tlab" style="left:2287px">12</div>
<div class="tlab" style="left:2458px">06:00</div>

<!-- settings icon -->
<svg class="abs" style="left:2565px;top:1207px" width="40" height="36" viewBox="0 0 40 36"><path d="M13 6.100h14l6.600 11.900-6.600 11.900h-14l-6.600-11.900z" fill="none" stroke="#131722" stroke-width="2.100" stroke-linejoin="round"/><circle cx="20" cy="18" r="3.900" fill="none" stroke="#131722" stroke-width="2.100"/></svg>

<!-- TradingView logo -->
<svg class="abs" style="left:0;top:1120px" width="360" height="76" viewBox="0 1120 360 76">
  <g stroke="#fff" stroke-width="5" stroke-linejoin="round" fill="#fff">
    <path d="M18 1138h24v30h-12v-18.500h-12z"/><circle cx="52" cy="1144" r="5.900"/><path d="M61.500 1138h16.300l-11.400 30h-14.400z"/>
    <text x="91" y="1168" font-family="Liberation Sans, sans-serif" font-weight="bold" font-size="42" letter-spacing="-0.500">TradingView</text>
  </g>
  <g fill="#111">
    <path d="M18 1138h24v30h-12v-18.500h-12z"/><circle cx="52" cy="1144" r="5.900"/><path d="M61.500 1138h16.300l-11.400 30h-14.400z"/>
    <text id="tvt" x="91" y="1168" font-family="Liberation Sans, sans-serif" font-weight="bold" font-size="42" letter-spacing="-0.500">TradingView</text>
  </g>
</svg>

<!-- lightning icon -->
<svg class="abs" style="left:1828px;top:1146px" width="50" height="50" viewBox="-2 -2 50 50"><circle cx="23" cy="23" r="23" fill="#fff"/><circle cx="23" cy="23" r="19.500" fill="#fff" stroke="#8b28a8" stroke-width="3"/><path d="M27.900 12l2.200 1.400-7.100 8.500 8.900.2-13.800 11.800-2.200-1.400 7.100-8.500-9-.4z" fill="#8b28a8"/></svg>

<!-- borders -->
<div class="abs" style="left:0;top:1252px;width:2666px;height:2px;background:#e9e9e9"></div>
<div class="abs" style="left:2664px;top:0;width:2px;height:1256px;background:#e9e9e9"></div>
</div>
</body>
</html>
